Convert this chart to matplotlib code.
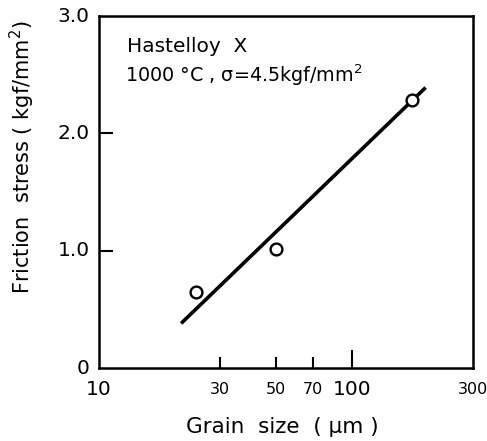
import numpy as np
import matplotlib.pyplot as plt

# datos
grain_size = [24.2, 50, 172]
friction = [0.645, 1.01, 2.285]
fit_x = [21.1, 195]
fit_y = [0.38, 2.39]

x_big_ticks = [10, 100]
x_small_ticks = [30, 50, 70, 300]
y_ticks = [0, 1.0, 2.0, 3.0]
y_labels = ['0', '1.0', '2.0', '3.0']

fig = plt.figure(figsize=(4.87, 4.41), dpi=100)
ax = fig.add_axes([99 / 487, 1 - 368 / 441, 374 / 487, 352 / 441])

ax.plot(fit_x, fit_y, color='black', lw=2.6, solid_capstyle='butt')
ax.plot(grain_size, friction, 'o', mfc='white', mec='black', ms=8.5, mew=1.7)

ax.set_xscale('log')
ax.set_xlim(10, 300)
ax.set_ylim(0, 3.0)
for s in ax.spines.values():
    s.set_linewidth(1.8)

# ticks: solo hacia adentro, sin ticks arriba ni a la derecha
ax.minorticks_off()
ax.set_xticks([30, 50, 70, 100])
ax.set_xticklabels([])
ax.tick_params(axis='x', direction='in', length=8, width=1.5, top=False)
ax.xaxis.get_major_ticks()[3].tick1line.set_markersize(13)
ax.set_yticks([1.0, 2.0])
ax.set_yticklabels([])
ax.tick_params(axis='y', direction='in', length=10, width=1.5, right=False)

# etiquetas de los ticks a mano (tamanos distintos)
tr = ax.get_xaxis_transform()
for v in x_big_ticks:
    ax.text(v, -0.035, str(v), transform=tr, ha='center', va='top', fontsize=14.5)
for v in x_small_ticks:
    ax.text(v, -0.04, str(v), transform=tr, ha='center', va='top', fontsize=11.5)
ty = ax.get_yaxis_transform()
for v, lab in zip(y_ticks, y_labels):
    ax.text(-0.025, v, lab, transform=ty, ha='right', va='center', fontsize=14.5)

ax.text(0.075, 0.913, 'Hastelloy  X', transform=ax.transAxes, fontsize=14.5, va='center')
ax.text(0.07, 0.832, '1000 °C , σ=4.5kgf/mm$^2$', transform=ax.transAxes, fontsize=13.8,
        va='center')

fig.text(282 / 487, 1 - 427 / 441, 'Grain  size  ( μm )', ha='center', va='center',
         fontsize=15.5)
fig.text(22 / 487, 1 - 157 / 441, 'Friction  stress ( kgf/mm$^2$)', ha='center',
         va='center', rotation=90, fontsize=15)

fig.savefig('out.png', dpi=100)
